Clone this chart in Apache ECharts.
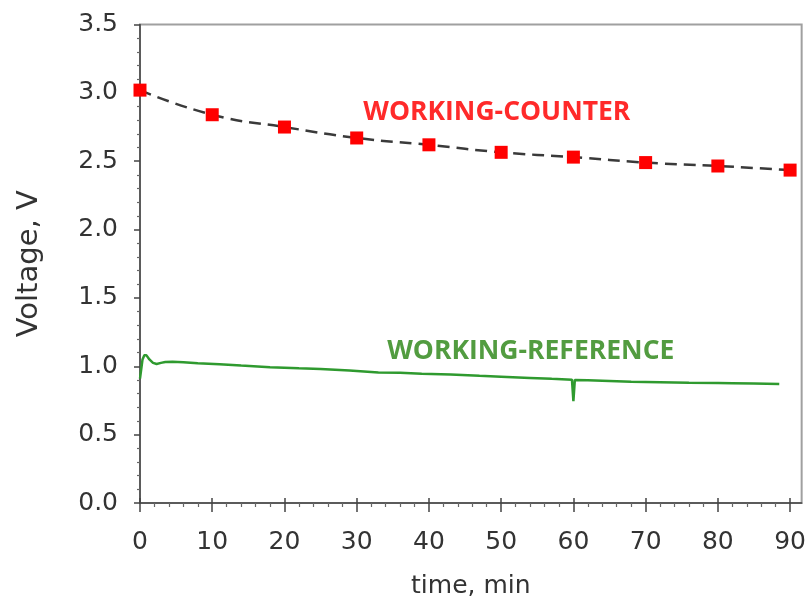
<!DOCTYPE html>
<html>
<head>
<meta charset="utf-8">
<script src="https://cdn.jsdelivr.net/npm/echarts@6/dist/echarts.min.js"></script>
<style>
  html, body { margin: 0; padding: 0; background: #fff; }
  #chart { width: 809px; height: 610px; }
</style>
</head>
<body>
<div id="chart"></div>
<script>
// Working-counter voltage, sampled every 10 min
const counterTime = [0, 10, 20, 30, 40, 50, 60, 70, 80, 90];
const counterVolt = [3.02, 2.84, 2.75, 2.67, 2.62, 2.565, 2.53, 2.49, 2.465, 2.435];

// Working-reference voltage, continuous record [min, V]
const refTime = [0, 0.15, 0.35, 0.6, 0.9, 1.3, 1.8, 2.3, 2.9, 3.5, 4.5, 6, 8, 11, 14, 18, 22, 25, 29, 33, 36, 39, 43, 47, 50, 54, 57, 59.8, 60, 60.2, 62, 65, 68, 72, 76, 80, 82, 85, 88.5];
const refVolt = [0.91, 0.97, 1.05, 1.08, 1.08, 1.05, 1.025, 1.017, 1.025, 1.031, 1.034, 1.03, 1.022, 1.015, 1.005, 0.993, 0.985, 0.98, 0.97, 0.955, 0.952, 0.946, 0.94, 0.93, 0.924, 0.915, 0.908, 0.902, 0.745, 0.9, 0.897, 0.892, 0.887, 0.883, 0.879, 0.877, 0.876, 0.874, 0.87];

// Axis ticks and labels
const xMajor = [0, 10, 20, 30, 40, 50, 60, 70, 80, 90];
const xMinor = [];
for (let t = 0; t <= 90; t += 2) if (t % 10 !== 0) xMinor.push(t);
const yTickLabels = ['0.0', '0.5', '1.0', '1.5', '2.0', '2.5', '3.0', '3.5'];

const counterLabel = 'WORKING-COUNTER';
const refLabel = 'WORKING-REFERENCE';

const counterData = counterTime.map((t, i) => [t, counterVolt[i]]);
const refData = refTime.map((t, i) => [t, refVolt[i]]);

const axisColor = '#444';
const tickFont = { fontFamily: 'DejaVu Sans', fontSize: 25, color: '#333' };
const X_MAX = 91.6;

const chart = echarts.init(document.getElementById('chart'), null, { renderer: 'canvas' });

const hiddenX = (extra) => Object.assign({
  type: 'value', min: 0, max: X_MAX, position: 'bottom', gridIndex: 0,
  axisLine: { show: false }, axisLabel: { show: false }, splitLine: { show: false }
}, extra);

chart.setOption({
  animation: false,
  grid: {
    left: 140, right: 6, top: 24.5, bottom: 107,
    show: true, borderColor: '#a0a0a0', borderWidth: 2, backgroundColor: 'transparent'
  },
  xAxis: [
    {
      type: 'value', min: 0, max: X_MAX, position: 'bottom',
      name: 'time, min', nameLocation: 'middle', nameGap: 71,
      nameTextStyle: { fontFamily: 'DejaVu Sans', fontSize: 25, color: '#333' },
      axisLine: { show: true, lineStyle: { color: axisColor, width: 1.5 } },
      axisTick: { show: true, customValues: xMajor, length: 9, lineStyle: { color: axisColor, width: 1.5 } },
      axisLabel: Object.assign({ customValues: xMajor, margin: 27 }, tickFont),
      splitLine: { show: false }
    },
    hiddenX({ axisTick: { show: true, inside: true, customValues: xMajor, length: 5, lineStyle: { color: axisColor, width: 1.5 } } }),
    hiddenX({ axisTick: { show: true, customValues: xMinor, length: 4, lineStyle: { color: '#666', width: 1.2 } } })
  ],
  yAxis: {
    type: 'value', min: 0, max: 3.5, interval: 0.5,
    name: 'Voltage, V', nameLocation: 'middle', nameGap: 96, nameRotate: 90,
    nameTextStyle: { fontFamily: 'DejaVu Sans', fontSize: 29, color: '#333' },
    axisLine: { show: true, lineStyle: { color: axisColor, width: 1.5 } },
    axisTick: { show: true, length: 6, lineStyle: { color: axisColor, width: 1.5 } },
    minorTick: { show: true, splitNumber: 5, length: 3, lineStyle: { color: '#666', width: 1.2 } },
    axisLabel: Object.assign({
      margin: 22,
      formatter: (v) => yTickLabels[Math.round(v / 0.5)]
    }, tickFont),
    splitLine: { show: false }
  },
  series: [
    {
      name: 'counter-fit', type: 'line', xAxisIndex: 0, data: counterData,
      smooth: 0.5, showSymbol: false, silent: true,
      lineStyle: { color: '#3a3a3a', width: 2.5, type: [12, 7] },
      z: 2
    },
    {
      name: 'counter', type: 'scatter', xAxisIndex: 0, data: counterData,
      symbol: 'rect', symbolSize: 13, itemStyle: { color: '#ff0000', opacity: 1 },
      z: 3,
      markPoint: {
        symbol: 'rect', symbolSize: 0,
        label: {
          show: true, formatter: counterLabel, position: 'inside',
          fontFamily: 'Open Sans', fontWeight: 'bold', fontSize: 26.5, color: '#ff2a2a'
        },
        data: [{ coord: [49.4, 2.86] }]
      }
    },
    {
      name: 'reference', type: 'line', xAxisIndex: 0, data: refData,
      showSymbol: false, smooth: false,
      lineStyle: { color: '#2f9a2f', width: 2.5 },
      z: 2,
      markPoint: {
        symbol: 'rect', symbolSize: 0,
        label: {
          show: true, formatter: refLabel, position: 'inside',
          fontFamily: 'Open Sans', fontWeight: 'bold', fontSize: 26.5, color: '#529c40'
        },
        data: [{ coord: [54.1, 1.105] }]
      }
    }
  ]
});
</script>
</body>
</html>
